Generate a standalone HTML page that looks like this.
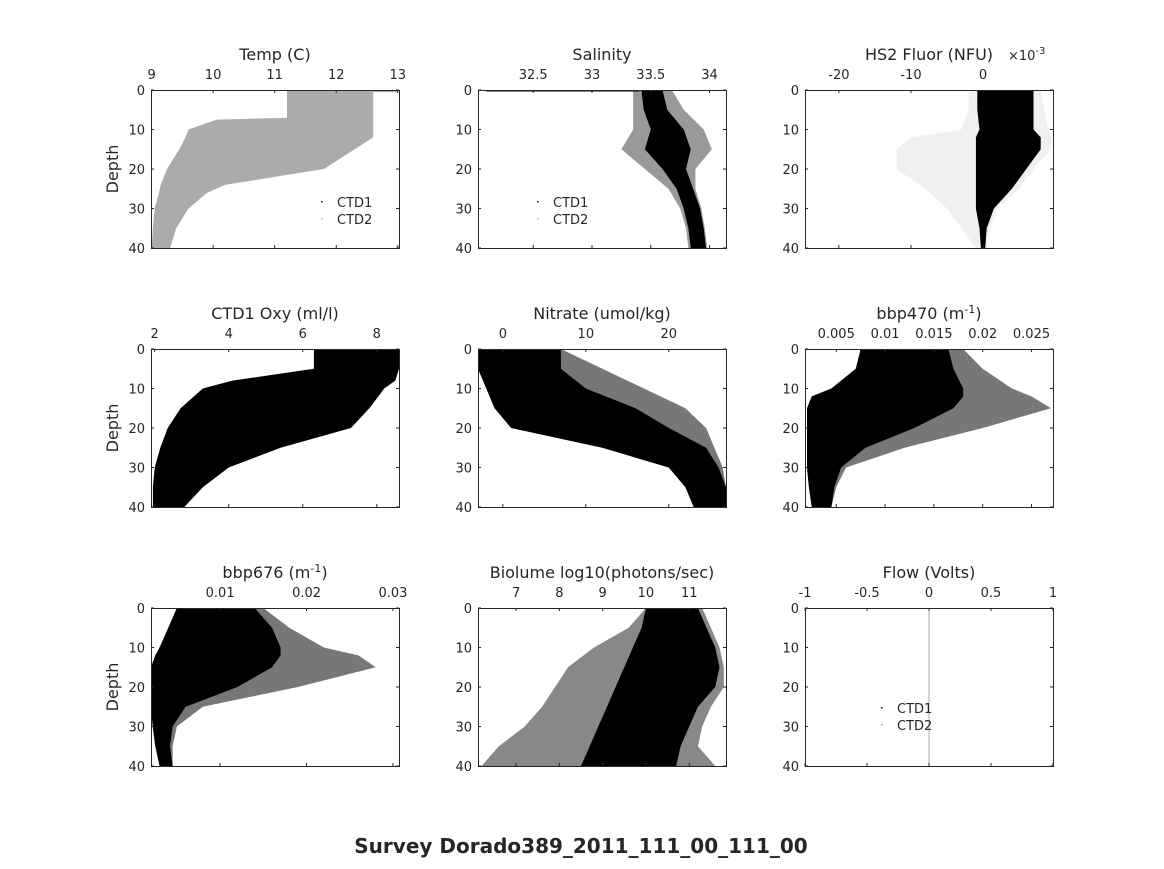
<!DOCTYPE html>
<html><head><meta charset="utf-8"><style>
body{margin:0;background:#fff;}
svg text{font-family:"DejaVu Sans","Liberation Sans",sans-serif;fill:#262626;}
</style></head><body>
<svg id="s" width="1164" height="864" xmlns="http://www.w3.org/2000/svg">
<rect width="1164" height="864" fill="#fff"/>
<text x="581" y="853" text-anchor="middle" font-size="20" font-weight="bold" fill="#000">Survey Dorado389_2011_111_00_111_00</text>
</svg>
<script>
// ---- data ----
const depthTicks=[0,10,20,30,40];
const tempDepth=[0,3,7,7.5,10,12,15,20,22,24,26,30,35,40];
const tempLo=[11.2,11.2,11.2,10.06,9.6,9.55,9.45,9.25,9.2,9.15,9.12,9.05,9.02,9.0];
const tempHi=[12.6,12.6,12.6,12.6,12.6,12.6,12.3,11.8,11.0,10.2,9.9,9.6,9.4,9.3];
const salDepth=[0,5,10,15,20,25,30,35,40];
const salLo=[33.42,33.44,33.5,33.45,33.6,33.72,33.78,33.82,33.84];
const salHi=[33.6,33.64,33.78,33.84,33.8,33.86,33.92,33.95,33.97];
const salSparseLo=[33.35,33.35,33.35,33.25,33.45,33.65,33.75,33.8,33.82];
const salSparseHi=[33.68,33.78,33.95,34.02,33.88,33.88,33.93,33.96,33.98];
const flDepth=[0,5,10,12,15,20,25,30,35,40];
const flLo=[-0.8,-0.8,-0.5,-1,-1,-1,-1,-1,-0.5,-0.3];
const flHi=[7,7,7,8,8,6,4,1.5,0.5,0.3];
const flSparseLo=[-2,-2,-3,-10,-12,-12,-8,-5,-3,-1];
const flSparseHi=[8,8.5,9,9.5,9.5,7,5,2,1,0.5];
const oxDepth=[0,5,8,10,15,20,25,30,35,40];
const oxLo=[6.3,6.3,4.1,3.3,2.7,2.35,2.15,2.0,1.95,1.95];
const oxHi=[8.6,8.6,8.5,8.2,7.8,7.3,5.4,4.0,3.3,2.8];
const niDepth=[0,5,10,15,20,25,30,35,40];
const niLo=[-3,-3,-2,-1,1,12,20,22,23];
const niHi=[7,7,10,16,20,24.5,26,26.9,26.9];
const niSparseHi=[7,12,17,22,24.5,25.5,26.5,26.9,26.9];
const b4Depth=[0,5,10,12,15,20,25,30,35,40];
const b4Lo=[.0075,.007,.0045,.0025,.002,.002,.002,.002,.0022,.0025];
const b4Hi=[.0165,.017,.018,.018,.017,.013,.008,.0055,.0048,.0045];
const b4SparseHi=[.018,.02,.023,.025,.027,.02,.012,.006,.005,.0045];
const b6Depth=[0,5,10,12,15,20,25,30,35,40];
const b6Lo=[.005,.004,.003,.0025,.002,.002,.002,.0022,.0025,.003];
const b6Hi=[.014,.016,.017,.017,.016,.012,.006,.0045,.0042,.0045];
const b6SparseHi=[.015,.018,.022,.026,.028,.019,.008,.005,.0045,.0045];
const biDepth=[0,5,10,15,20,25,30,35,40];
const biLo=[10.0,9.9,9.7,9.5,9.3,9.1,8.9,8.7,8.5];
const biHi=[11.2,11.4,11.6,11.7,11.6,11.2,11.0,10.8,10.7];
const biSparseLo=[10,9.6,8.8,8.2,7.9,7.6,7.2,6.6,6.2];
const biSparseHi=[11.3,11.5,11.7,11.8,11.8,11.5,11.3,11.2,11.6];
const flowValue=[0];

const NS="http://www.w3.org/2000/svg";
const svg=document.getElementById('s');
function el(t,a,p){const e=document.createElementNS(NS,t);for(const k in a)e.setAttribute(k,a[k]);(p||svg).appendChild(e);return e;}

const panels=[
 {key:'temp',x:151,y:90,xmin:8.99,xmax:13.02,ticks:[9,10,11,12,13],labels:['9','10','11','12','13'],title:'Temp (C)',ylab:true,
  layers:[{d:tempDepth,lo:tempLo,hi:tempHi,fill:'#ababab'}],legend:[337,202]},
 {key:'salinity',x:478,y:90,xmin:32.03,xmax:34.14,ticks:[32.5,33,33.5,34],labels:['32.5','33','33.5','34'],title:'Salinity',
  layers:[{d:salDepth,lo:salSparseLo,hi:salSparseHi,fill:'#999'},{d:salDepth,lo:salLo,hi:salHi,fill:'#000'}],legend:[553,202],surf:true},
 {key:'fluor',x:805,y:90,xmin:-24.7,xmax:9.7,ticks:[-20,-10,0],labels:['-20','-10','0'],title:'HS2 Fluor (NFU)',exp:true,
  layers:[{d:flDepth,lo:flSparseLo,hi:flSparseHi,fill:'#f0f0f0'},{d:flDepth,lo:flLo,hi:flHi,fill:'#000'}]},
 {key:'oxy',x:151,y:349,xmin:1.9,xmax:8.6,ticks:[2,4,6,8],labels:['2','4','6','8'],title:'CTD1 Oxy (ml/l)',ylab:true,
  layers:[{d:oxDepth,lo:oxLo,hi:oxHi,fill:'#000'}]},
 {key:'nitrate',x:478,y:349,xmin:-3,xmax:26.9,ticks:[0,10,20],labels:['0','10','20'],title:'Nitrate (umol/kg)',
  layers:[{d:niDepth,lo:niLo,hi:niSparseHi,fill:'#777'},{d:niDepth,lo:niLo,hi:niHi,fill:'#000'}]},
 {key:'bbp470',x:805,y:349,xmin:.0018,xmax:.0272,ticks:[.005,.01,.015,.02,.025],labels:['0.005','0.01','0.015','0.02','0.025'],title:'bbp470',sup:true,
  layers:[{d:b4Depth,lo:b4Lo,hi:b4SparseHi,fill:'#777'},{d:b4Depth,lo:b4Lo,hi:b4Hi,fill:'#000'}]},
 {key:'bbp676',x:151,y:608,xmin:.002,xmax:.0307,ticks:[.01,.02,.03],labels:['0.01','0.02','0.03'],title:'bbp676',sup:true,ylab:true,
  layers:[{d:b6Depth,lo:b6Lo,hi:b6SparseHi,fill:'#777'},{d:b6Depth,lo:b6Lo,hi:b6Hi,fill:'#000'}]},
 {key:'biolume',x:478,y:608,xmin:6.12,xmax:11.85,ticks:[7,8,9,10,11],labels:['7','8','9','10','11'],title:'Biolume log10(photons/sec)',
  layers:[{d:biDepth,lo:biSparseLo,hi:biSparseHi,fill:'#888'},{d:biDepth,lo:biLo,hi:biHi,fill:'#000'}]},
 {key:'flow',x:805,y:608,xmin:-1,xmax:1,ticks:[-1,-0.5,0,0.5,1],labels:['-1','-0.5','0','0.5','1'],title:'Flow (Volts)',flow:true,legend:[897,708]}
];
const W=248,H=158;
panels.forEach((p,i)=>{
  const g=el('g',{});
  
  
  const xs=v=>p.x+(v-p.xmin)/(p.xmax-p.xmin)*W;
  const ys=d=>p.y+d/40*H;
  const cp=el('clipPath',{id:'c'+i},g);el('rect',{x:p.x,y:p.y,width:W,height:H},cp);
  const pl=el('g',{'clip-path':'url(#c'+i+')'},g);
  (p.layers||[]).forEach((L,j)=>{
    let pts=[];
    L.d.forEach((d,k)=>pts.push(xs(L.lo[k]).toFixed(1)+','+ys(d).toFixed(1)));
    for(let k=L.d.length-1;k>=0;k--)pts.push(xs(L.hi[k]).toFixed(1)+','+ys(L.d[k]).toFixed(1));
    const poly=el('polygon',{points:pts.join(' '),fill:L.fill},pl);
    
    
  });
  if(p.key==='temp'){el('line',{x1:xs(11.3),y1:ys(0.3),x2:xs(13),y2:ys(0.3),stroke:'#ababab','stroke-width':2},pl);}
  if(p.surf){el('line',{x1:xs(32.1),y1:ys(0.2),x2:xs(33.4),y2:ys(0.2),stroke:'#000','stroke-width':1.5},pl);}
  if(p.flow){flowValue.forEach(v=>{const l=el('line',{x1:xs(v),y1:p.y,x2:xs(v),y2:p.y+H,stroke:'#aaa','stroke-width':1},pl);
    });}
  const box=el('rect',{x:p.x+0.5,y:p.y+0.5,width:W,height:H,fill:'none',stroke:'#262626','stroke-width':1},g);
  
  p.ticks.forEach((t,k)=>{
    const x=xs(t);
    el('line',{x1:x,y1:p.y,x2:x,y2:p.y+3,stroke:'#262626'},g);
    el('line',{x1:x,y1:p.y+H,x2:x,y2:p.y+H-3,stroke:'#262626'},g);
    const tx=el('text',{x:x,y:p.y-11,'text-anchor':'middle','font-size':13},g);
    tx.textContent=p.labels[k];
    
  });
  depthTicks.forEach(d=>{
    const y=ys(d);
    el('line',{x1:p.x,y1:y,x2:p.x+3,y2:y,stroke:'#262626'},g);
    el('line',{x1:p.x+W,y1:y,x2:p.x+W-3,y2:y,stroke:'#262626'},g);
    const tx=el('text',{x:p.x-6,y:y+5,'text-anchor':'end','font-size':13},g);
    tx.textContent=d;
    
  });
  const tt=el('text',{x:p.x+W/2,y:p.y-30,'text-anchor':'middle','font-size':16},g);
  
  if(p.sup){tt.innerHTML=p.title+' (m<tspan font-size="11" dy="-6">-1</tspan><tspan dy="6">)</tspan>';}
  else tt.textContent=p.title;
  if(p.exp){const e=el('text',{x:1008,y:60,'font-size':13},g);e.innerHTML='×10<tspan font-size="10" dy="-6">-3</tspan>';
    }
  if(p.ylab){const yl=el('text',{x:0,y:0,'text-anchor':'middle','font-size':16,transform:'translate('+(p.x-33)+','+(p.y+H/2)+') rotate(-90)'},g);
    yl.textContent='Depth';}
  if(p.legend){const [lx,ly]=p.legend;
    const lg=el('g',{},g);
    el('rect',{x:lx-16,y:ly-1,width:1.5,height:1.5,fill:'#000'},lg);
    el('rect',{x:lx-16,y:ly+16,width:1.5,height:1.5,fill:'#aaa'},lg);
    const a=el('text',{x:lx,y:ly+5,'font-size':13},lg);a.textContent='CTD1';
    const b=el('text',{x:lx,y:ly+22,'font-size':13},lg);b.textContent='CTD2';}
});
</script>
</body></html>
